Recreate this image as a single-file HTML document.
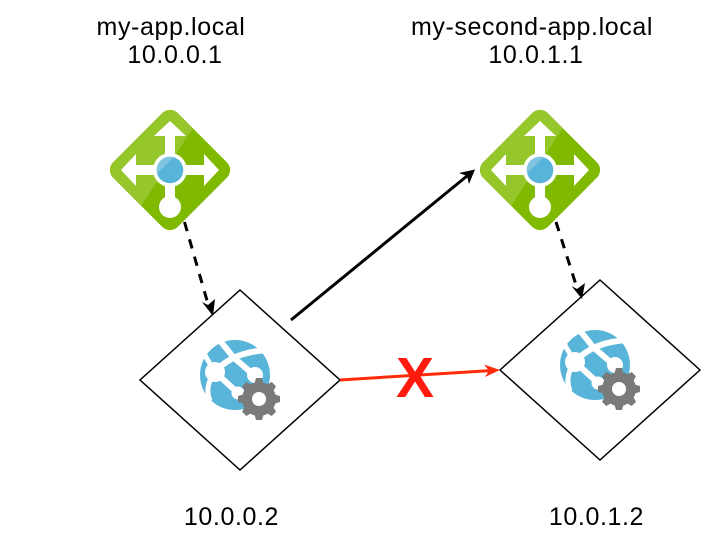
<!DOCTYPE html>
<html>
<head>
<meta charset="utf-8">
<style>
html,body{margin:0;padding:0;background:#fff;width:711px;height:541px;overflow:hidden}
svg{display:block}
text{font-family:"Liberation Sans",Arial,sans-serif;font-size:25px;letter-spacing:.6px;fill:#000;text-anchor:middle}
</style>
</head>
<body>
<svg width="711" height="541" viewBox="0 0 711 541" xmlns="http://www.w3.org/2000/svg">
<defs>
<clipPath id="dc"><rect x="-45.7" y="-45.7" width="91.4" height="91.4" rx="11" transform="rotate(45)"/></clipPath>
<g id="gw">
  <rect x="-45.7" y="-45.7" width="91.4" height="91.4" rx="11" transform="rotate(45)" fill="#7FBA00"/>
  <path d="M42,-70 L-52,70 L-70,70 L-70,-70 Z" fill="#95C62A" clip-path="url(#dc)"/>
  <path d="M0,-49 L16,-34 L5,-34 L5,-5 L34,-5 L34,-16 L49,0 L34,16 L34,5 L5,5 L5,30 L-5,30 L-5,5 L-34,5 L-34,16 L-49,0 L-34,-16 L-34,-5 L-5,-5 L-5,-34 L-16,-34 Z" fill="#fff"/>
  <circle cx="0" cy="37" r="11" fill="#fff"/>
  <circle cx="0" cy="0" r="17" fill="#fff"/>
  <circle cx="0" cy="0" r="13.3" fill="#59B4D9"/>
  <path d="M-12.8,3.5 A13.3,13.3 0 0 1 3.5,-12.8 Z" fill="#7FC4E1"/>
</g>
<g id="app">
  <circle cx="0" cy="0" r="35" fill="#59B4D9"/>
  <g stroke="#fff" fill="none" stroke-width="5.5">
    <path d="M-14,-33 C-9,-27 -5,-22 -2,-18 L20,1" stroke-width="6"/>
    <path d="M-20,-3 C-8,-17 10,-24 34,-25" stroke-width="6"/>
    <path d="M-20,-3 C-24,-10 -29,-17 -31,-22" stroke-width="5"/>
    <path d="M-20,-3 C-27,6 -29,16 -25,26" stroke-width="5"/>
    <path d="M-20,-3 L3,18" stroke-width="6"/>
  </g>
  <circle cx="-20" cy="-3" r="10" fill="#fff"/>
  <circle cx="20" cy="0" r="8" fill="#fff"/>
  <circle cx="3" cy="18" r="6.5" fill="#fff"/>
  <g transform="translate(24,24)">
    <g fill="#7A7A7A">
      <circle r="17"/>
      <path d="M-3,-21 L3,-21 L5,-14 L-5,-14 Z"/>
      <path d="M-3,-21 L3,-21 L5,-14 L-5,-14 Z" transform="rotate(45)"/>
      <path d="M-3,-21 L3,-21 L5,-14 L-5,-14 Z" transform="rotate(90)"/>
      <path d="M-3,-21 L3,-21 L5,-14 L-5,-14 Z" transform="rotate(135)"/>
      <path d="M-3,-21 L3,-21 L5,-14 L-5,-14 Z" transform="rotate(180)"/>
      <path d="M-3,-21 L3,-21 L5,-14 L-5,-14 Z" transform="rotate(225)"/>
      <path d="M-3,-21 L3,-21 L5,-14 L-5,-14 Z" transform="rotate(270)"/>
      <path d="M-3,-21 L3,-21 L5,-14 L-5,-14 Z" transform="rotate(315)"/>
    </g>
    <circle r="7" fill="#fff"/>
  </g>
</g>
</defs>

<use href="#gw" x="170" y="170"/>
<use href="#gw" x="540" y="170"/>

<path d="M240,290 L340,380 L240,470 L140,380 Z" fill="#fff" stroke="#000" stroke-width="1.5"/>
<path d="M600,280 L700,370 L600,460 L500,370 Z" fill="#fff" stroke="#000" stroke-width="1.5"/>

<use href="#app" x="235" y="375"/>
<use href="#app" x="595" y="365"/>

<g fill="none" stroke="#000" stroke-width="3">
  <path d="M184.500,222 L208,304" stroke-dasharray="9.500 8.500"/>
  <path d="M556,222 L577,288" stroke-dasharray="9.500 8.500"/>
  <path d="M291,320 L467,176"/>
</g>
<path d="M213,316 L202,302 L208,305 L215,299 Z" fill="#000"/>
<path d="M582,299 L571.500,286 L577,289 L585,283 Z" fill="#000"/>
<path d="M475,169.500 L469,184 L467,176 L459,173 Z" fill="#000"/>

<path d="M340,380 L490,370.600" fill="none" stroke="#FF2A0A" stroke-width="3"/>
<path d="M500,370 L485,377 L489,370.600 L484,364.500 Z" fill="#FF2A0A"/>

<text x="415" y="397" style="font-size:57px;font-weight:bold;letter-spacing:0;fill:#FF1A0E">X</text>

<text x="171" y="35">my-app.local</text>
<text x="175" y="63">10.0.0.1</text>
<text x="532" y="35">my-second-app.local</text>
<text x="536" y="63">10.0.1.1</text>
<text x="231.500" y="525">10.0.0.2</text>
<text x="596.500" y="525">10.0.1.2</text>
</svg>
</body>
</html>
